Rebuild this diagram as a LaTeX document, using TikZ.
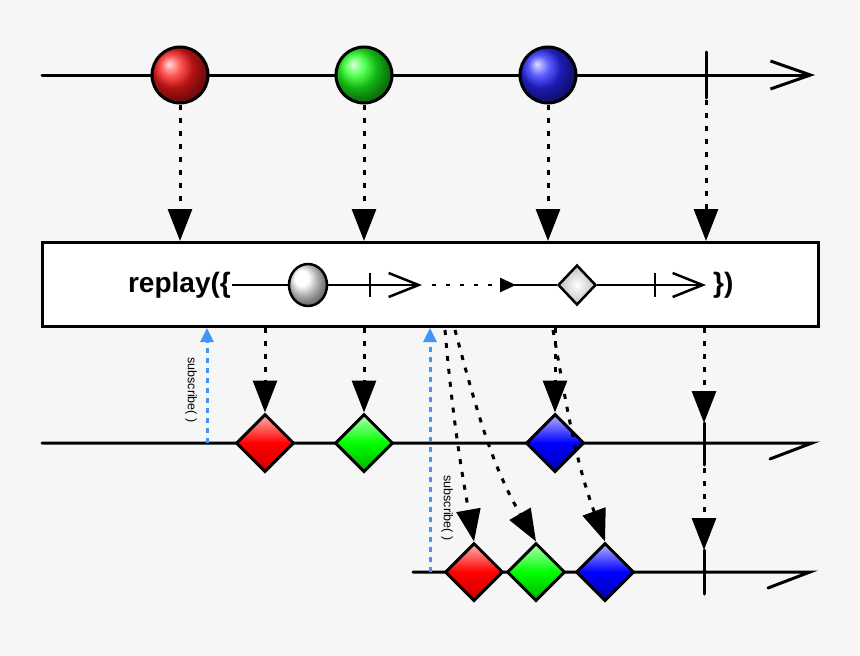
\documentclass[tikz,border=0pt]{standalone}
\usepackage{fontspec}
\setsansfont{Liberation Sans}
\usetikzlibrary{positioning, arrows.meta, shapes.geometric}
\definecolor{bgcol}{HTML}{F6F6F6}
\definecolor{subcol}{HTML}{3F96F4}

\begin{document}
\begin{tikzpicture}[x=1pt, y=-1pt,
    line/.style={line width=3pt, line cap=round},
    flow/.style={line width=3pt, dash pattern=on 5pt off 8pt,
      -{Triangle[length=32pt, width=24pt]}},
    sub/.style={subcol, line width=3pt, dash pattern=on 5pt off 5pt,
      -{Triangle[length=14pt, width=13pt]}},
    ball/.style={circle, draw, line width=3pt, minimum size=56pt, inner sep=0pt},
    gem/.style={diamond, draw, line width=3pt, minimum width=58pt,
      minimum height=58pt, inner sep=0pt},
    sublabel/.style={font=\sffamily\fontsize{12.5}{12.5}\selectfont, rotate=-90}]
  % background
  \fill[bgcol] (0,0) rectangle (860,656);
  \useasboundingbox (0,0) rectangle (860,656);

  % source line
  \draw[line, -{Straight Barb[length=40pt, width=28pt, line width=3pt]}] (42,75) -- (815,75);
  \coordinate (done) at (706,75);
  \draw[line] (706,52) -- (706,98);
  \node[ball, ball color=red!90] (r1) at (180,75) {};
  \node[ball, ball color=green!90] (g1) at (364,75) {};
  \node[ball, ball color=blue!85] (b1) at (548,75) {};

  % operator box
  \node[draw, fill=white, line width=3pt, minimum width=776pt, minimum height=84pt,
    inner sep=0pt] (op) at (430,284.5) {};
  \node[font=\sffamily\bfseries\fontsize{28}{28}\selectfont, anchor=east, inner sep=1pt] (name) at (232,285) {replay(\{};
  \node[ellipse, draw, line width=2.5pt, ball color=white, minimum width=38pt,
    minimum height=42pt, inner sep=0pt] (ms) at (308,285) {};
  \node[diamond, draw, line width=2.5pt, shading=radial, inner color=white,
    outer color=gray!50, minimum width=38pt, minimum height=40pt, inner sep=0pt] (md) at (577,285) {};
  \draw[line width=2.5pt] (name.east) -- (ms);
  \draw[line width=2.5pt, -{Straight Barb[length=30pt, width=24pt, line width=2.5pt]}] (ms) -- (422,285);
  \draw[line width=2.5pt] (370,273) -- (370,297);
  \draw[line width=2.5pt, dash pattern=on 4pt off 10pt, -{Triangle[length=16pt, width=14pt]}] (432,285) -- (516,285);
  \draw[line width=2.5pt] (514,285) -- (md);
  \draw[line width=2.5pt, -{Straight Barb[length=30pt, width=24pt, line width=2.5pt]}] (md) -- (706,285);
  \draw[line width=2.5pt] (655,273) -- (655,297);
  \node[font=\sffamily\bfseries\fontsize{28}{28}\selectfont, anchor=west, inner sep=1pt] at (712,285) {\})};

  \draw[flow] (r1) -- (r1 |- op.north);
  \draw[flow] (g1) -- (g1 |- op.north);
  \draw[flow] (b1) -- (b1 |- op.north);
  \draw[flow] (706,100) -- (done |- op.north);

  % first subscriber
  \draw[line] (42,443) -- (812,443) -- (770,459);
  \node[gem, top color=red!30, bottom color=red!80!black, middle color=red] (r2) at (265,443) {};
  \node[gem, top color=green!30, bottom color=green!70!black, middle color=green] (g2) at (364,443) {};
  \node[gem, top color=blue!30, bottom color=blue!70!black, middle color=blue] (b2) at (555,443) {};
  \draw[line] (704,423) -- (704,465);
  \coordinate (c2) at (704,423);
  \draw[flow] (r2 |- op.south) -- (r2.north);
  \draw[flow] (g2 |- op.south) -- (g2.north);
  \draw[flow] (b2 |- op.south) -- (b2.north);
  \draw[flow] (op.south -| c2) -- (c2);
  \coordinate (s1) at (207,443);
  \draw[sub] (s1) -- (s1 |- op.south);
  \node[sublabel] at (191,390) {subscribe( )};

  % second subscriber
  \draw[line] (413,572) -- (810,572) -- (768,588);
  \node[gem, top color=red!30, bottom color=red!80!black, middle color=red] (r3) at (474,572) {};
  \node[gem, top color=green!30, bottom color=green!70!black, middle color=green] (g3) at (536,572) {};
  \node[gem, top color=blue!30, bottom color=blue!70!black, middle color=blue] (b3) at (605,572) {};
  \draw[line] (704,550) -- (704,594);
  \coordinate (c3) at (704,550);
  \coordinate (t1) at (445,330);
  \coordinate (t2) at (455,330);
  \coordinate (t3) at (553,330);
  \draw[flow] (t1) to[out=-85, in=100] (r3.north);
  \draw[flow] (t2) to[out=-75, in=120] (g3.north);
  \draw[flow] (t3) to[out=-80, in=110] (b3.north);
  \draw[flow] (704,468) -- (c3);
  \coordinate (s2) at (430,572);
  \draw[sub] (s2) -- (s2 |- op.south);
  \node[sublabel] at (447,508) {subscribe( )};
\end{tikzpicture}
\end{document}
